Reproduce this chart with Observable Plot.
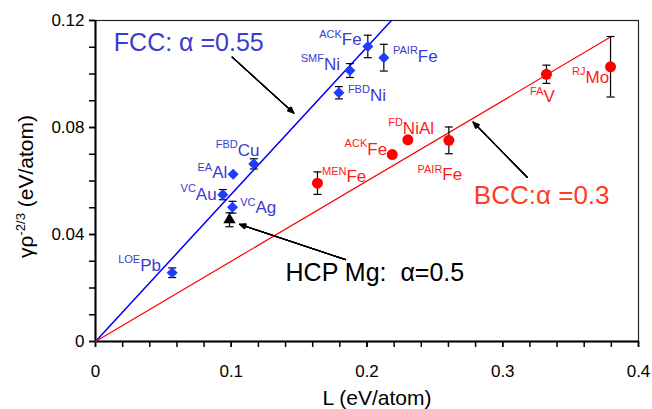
<!DOCTYPE html>
<html><head><meta charset="utf-8">
<script src="https://cdn.jsdelivr.net/npm/d3@7"></script>
<script src="https://cdn.jsdelivr.net/npm/@observablehq/plot@0.6"></script>
<style>
body{margin:0;background:#fff;}
svg text{white-space:pre;}
</style></head><body><div id="chart"></div>
<script>
// ---------- data ----------
const fccNames = ["Pb","Au","Ag","Al","Cu","Ni","Ni","Fe","Fe"];
const fccRefs  = ["LOE","VC","VC","EA","FBD","FBD","SMF","ACK","PAIR"];
const fccL     = [0.0565,0.0938,0.1009,0.1014,0.1166,0.1793,0.1874,0.2006,0.2124];
const fccG     = [0.0257,0.0549,0.0502,0.0625,0.0664,0.0930,0.1013,0.1103,0.1061];
const fccErr   = [0.0018,0.0019,0.0022,0,0.0019,0.0023,0.0026,0.0042,0.0050];

const bccNames = ["Fe","Fe","NiAl","Fe","V","Mo"];
const bccRefs  = ["MEN","ACK","FD","PAIR","FA","RJ"];
const bccL     = [0.1635,0.2186,0.2301,0.2603,0.3322,0.3794];
const bccG     = [0.0592,0.0699,0.0754,0.0752,0.0999,0.1027];
const bccErr   = [0.0042,0,0,0.0050,0.0034,0.0113];

const hcpL   = [0.0987];
const hcpG   = [0.0455];
const hcpErr = [0.0026];

const fccLineL = [0, 0.218];
const fccLineG = [0, 0.12];
const bccLineL = [0, 0.38];
const bccLineG = [0, 0.114];

const xTicks = [0,0.1,0.2,0.3,0.4];
const xTickLabels = ["0","0.1","0.2","0.3","0.4"];
const xMinorTicks = [0,0.02,0.04,0.06,0.08,0.1,0.12,0.14,0.16,0.18,0.2,0.22,0.24,0.26,0.28,0.3,0.32,0.34,0.36,0.38,0.4];
const yTicks = [0,0.04,0.08,0.12];
const yTickLabels = ["0","0.04","0.08","0.12"];
const yMinorTicks = [0,0.01,0.02,0.03,0.04,0.05,0.06,0.07,0.08,0.09,0.1,0.11,0.12];

const xTitle = "L (eV/atom)";
const annTexts = ["FCC: α =0.55", "BCC:α =0.3", "HCP Mg:\u00a0\u00a0α=0.5"];
const annL     = [0.0135, 0.2787, 0.140];
const annG     = [0.1086, 0.0515, 0.0228];
const arrowL1  = [0.1007, 0.3180, 0.1842];
const arrowG1  = [0.1063, 0.0614, 0.0306];
const arrowL2  = [0.1461, 0.2782, 0.1061];
const arrowG2  = [0.0854, 0.0820, 0.0438];

// ---------- layout (label offsets in px) ----------
const fccLabelDx = [-32,-27,23,-21,-16,31,-26,-26,34];
const fccLabelDy = [-2,5,6,4,-8,8,-1,-1,4];
const bccLabelDx = [29,-25,-5,-6.5,-3,-25];
const bccLabelDy = [-1,0,-6,40,28,16];

const BLUE = "#1f3cff", BLUE_TXT = "#3b3bd0", RED = "#ff0000", RED_TXT = "#ff1a1a";
const capSymbol = {draw(ctx){ ctx.moveTo(-4,0); ctx.lineTo(4,0); }};

function idx(a){ return a.map((_, i) => i); }

function errMarks(L, G, E){
  const I = idx(L).filter(i => E[i] > 0);
  return [
    Plot.ruleX(I, {x: i => L[i], y1: i => G[i] - E[i], y2: i => G[i] + E[i], stroke: "#000", strokeWidth: 1.2}),
    Plot.dot(I, {x: i => L[i], y: i => G[i] + E[i], symbol: capSymbol, stroke: "#000", strokeWidth: 1.2, fill: "none", r: 4}),
    Plot.dot(I, {x: i => L[i], y: i => G[i] - E[i], symbol: capSymbol, stroke: "#000", strokeWidth: 1.2, fill: "none", r: 4})
  ];
}

function labelMarks(L, G, refs, names, DX, DY, color){
  return names.flatMap((n, i) => [
    Plot.text([i], {x: j => L[j], y: j => G[j], text: j => refs[j], dx: DX[i], dy: DY[i] - 7.5,
      textAnchor: "end", lineAnchor: "bottom", fontSize: 11, fill: color}),
    Plot.text([i], {x: j => L[j], y: j => G[j], text: j => names[j], dx: DX[i], dy: DY[i],
      textAnchor: "start", lineAnchor: "bottom", fontSize: 17, fill: color})
  ]);
}

// arrows: several head angles stacked to give a filled-looking head
function arrowMarks(){
  return [48, 38, 28, 18, 8].map(a => Plot.arrow(idx(arrowL1), {
    x1: i => arrowL1[i], y1: i => arrowG1[i], x2: i => arrowL2[i], y2: i => arrowG2[i],
    stroke: "#000", strokeWidth: 1.1, headLength: 9, headAngle: a}));
}

const annColors = [BLUE_TXT, "#ff3c1e", "#000"];
const annSizes = [25, 26, 25];

const plot = Plot.plot({
  width: 652, height: 409,
  marginLeft: 95, marginRight: 14, marginTop: 20, marginBottom: 68,
  x: {domain: [0, 0.4]},
  y: {domain: [0, 0.12]},
  style: {fontFamily: "'Liberation Sans', Arial, Helvetica, sans-serif", background: "#fff", color: "#000", overflow: "visible"},
  marks: [
    Plot.frame({stroke: "#222", strokeWidth: 1.2}),
    Plot.axisX(xMinorTicks, {tickSize: 6, tickFormat: () => "", strokeWidth: 1.5, label: null}),
    Plot.axisX(xTicks, {tickSize: 6, tickPadding: 17, tickFormat: d => xTickLabels[xTicks.indexOf(d)], fontSize: 17, strokeWidth: 1.5, label: null}),
    Plot.axisY(yMinorTicks, {tickSize: 6, tickFormat: () => "", strokeWidth: 1.5, label: null}),
    Plot.axisY(yTicks, {tickSize: 6, tickPadding: 5, tickFormat: d => yTickLabels[yTicks.indexOf(d)], fontSize: 17, strokeWidth: 1.5, label: null}),
    Plot.ruleX([0], {stroke: "#000", strokeWidth: 2}),
    Plot.ruleY([0], {stroke: "#000", strokeWidth: 2}),
    Plot.line(idx(fccLineL), {x: i => fccLineL[i], y: i => fccLineG[i], stroke: "#0000ff", strokeWidth: 1.5}),
    Plot.line(idx(bccLineL), {x: i => bccLineL[i], y: i => bccLineG[i], stroke: RED, strokeWidth: 1.2}),
    ...errMarks(fccL, fccG, fccErr),
    ...errMarks(bccL, bccG, bccErr),
    ...errMarks(hcpL, hcpG, hcpErr),
    Plot.dot(idx(fccL), {x: i => fccL[i], y: i => fccG[i], symbol: "diamond2", r: 5, fill: BLUE, stroke: "none"}),
    Plot.dot(idx(bccL), {x: i => bccL[i], y: i => bccG[i], symbol: "circle", r: 5.5, fill: RED, stroke: "none"}),
    Plot.dot(idx(hcpL), {x: i => hcpL[i], y: i => hcpG[i], symbol: "triangle", r: 4.6, fill: "#000", stroke: "none"}),
    ...labelMarks(fccL, fccG, fccRefs, fccNames, fccLabelDx, fccLabelDy, BLUE_TXT),
    ...labelMarks(bccL, bccG, bccRefs, bccNames, bccLabelDx, bccLabelDy, RED_TXT),
    ...arrowMarks(),
    ...annTexts.map((t, i) => Plot.text([i], {x: j => annL[j], y: j => annG[j], text: j => annTexts[j],
      textAnchor: "start", lineAnchor: "bottom", fontSize: annSizes[i], fill: annColors[i]})),
    Plot.text([xTitle], {frameAnchor: "bottom", text: d => d, dy: 63, dx: 10, lineAnchor: "bottom", fontSize: 21, fill: "#000"})
  ]
});

document.getElementById("chart").appendChild(plot);

// y-axis title with superscript, positioned from the y scale range
const yr = plot.scale("y").range;
const yMid = (yr[0] + yr[1]) / 2 + 6;
const yt = d3.select(plot).append("text")
  .attr("transform", `translate(33,${yMid}) rotate(-90)`)
  .attr("text-anchor", "middle")
  .attr("font-size", 21)
  .attr("fill", "#000");
yt.append("tspan").text("γρ");
yt.append("tspan").attr("font-size", 13).attr("dy", -8).text("-2/3");
yt.append("tspan").attr("dy", 8).text(" (eV/atom)");
</script>
</body></html>
